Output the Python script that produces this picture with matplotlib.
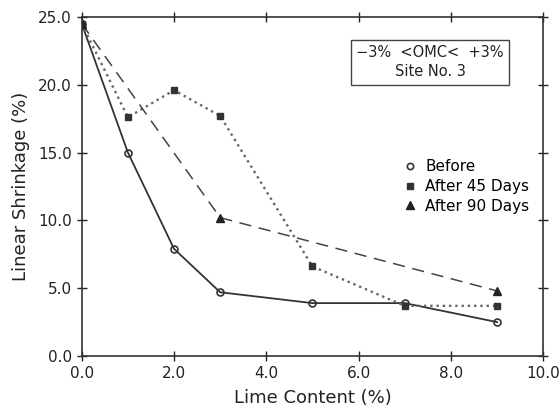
import matplotlib
matplotlib.use("Agg")
import matplotlib.pyplot as plt
from matplotlib.lines import Line2D

plt.rcParams.update({'font.family': 'DejaVu Sans', 'font.size': 11})

# lime content (%) and linear shrinkage (%)
lime_before = [0, 1, 2, 3, 5, 7, 9]
shrink_before = [24.5, 15.0, 7.9, 4.7, 3.9, 3.9, 2.5]

lime_45 = [0, 1, 2, 3, 5, 7, 9]
shrink_45 = [24.5, 17.6, 19.6, 17.7, 6.6, 3.7, 3.7]

lime_90 = [0, 3, 9]
shrink_90 = [24.5, 10.2, 4.8]

xticks = [0, 2, 4, 6, 8, 10]
yticks = [0, 5, 10, 15, 20, 25]

col = '#333333'

fig = plt.figure(figsize=(5.6, 4.13), dpi=100)
ax = fig.add_axes([0.146, 0.138, 0.824, 0.821])

ax.plot(lime_before, shrink_before, '-', color=col, lw=1.3,
        marker='o', ms=5, mfc='none', mec=col, mew=1.2)
ax.plot(lime_45, shrink_45, ':', color='#666666', lw=1.7,
        marker='s', ms=5, mfc=col, mec=col)
ax.plot(lime_90, shrink_90, '--', color='#444444', lw=1.1,
        dashes=(8, 5), marker='^', ms=6, mfc='#222222', mec='#222222')

ax.set_xlim(0, 10)
ax.set_ylim(0, 25)
ax.set_xticks(xticks)
ax.set_yticks(yticks)
ax.set_xticklabels(['%.1f' % v for v in xticks])
ax.set_yticklabels(['%.1f' % v for v in yticks])
ax.tick_params(direction='inout', length=7, width=1, colors='#222222', labelsize=11)
ax.tick_params(which='both', top=True, right=True)
for s in ax.spines.values():
    s.set_color('#333333')
    s.set_linewidth(1.2)

ax.set_xlabel('Lime Content (%)', fontsize=13, color='#222222', labelpad=6)
ax.set_ylabel('Linear Shrinkage (%)', fontsize=13, color='#222222', labelpad=6)

ax.text(0.755, 0.867, '\u22123%  <OMC<  +3%\nSite No. 3', transform=ax.transAxes,
        ha='center', va='center', fontsize=10.5, color='#222222', linespacing=1.4,
        bbox=dict(boxstyle='square,pad=0.35', fc='white', ec='#444444', lw=1.0))

handles = [
    Line2D([], [], ls='none', marker='o', ms=4.5, mfc='none', mec=col, mew=1.2),
    Line2D([], [], ls='none', marker='s', ms=4.5, mfc=col, mec=col),
    Line2D([], [], ls='none', marker='^', ms=5.5, mfc='#222222', mec='#222222'),
]
ax.legend(handles, ['Before', 'After 45 Days', 'After 90 Days'],
          loc='center right', bbox_to_anchor=(1.0, 0.5), frameon=False,
          handlelength=0.8, handletextpad=0.6, fontsize=11, labelspacing=0.3)

fig.savefig('out.png', dpi=100)
